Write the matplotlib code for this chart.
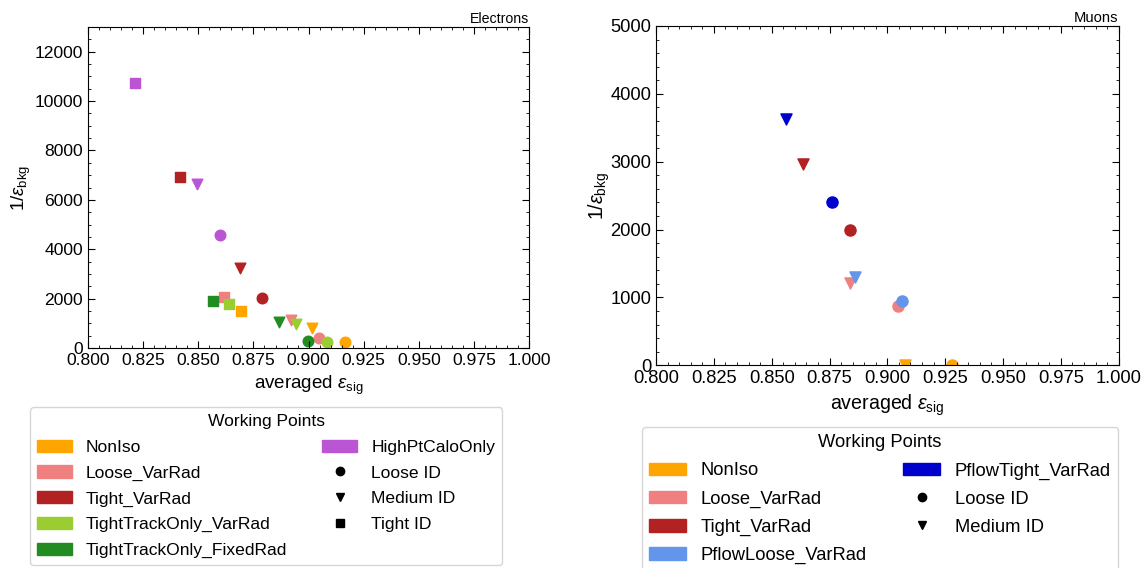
import numpy as np
import matplotlib
matplotlib.use('Agg')
from matplotlib import pyplot as plt
from matplotlib.patches import Patch
from matplotlib.lines import Line2D
from matplotlib.ticker import MultipleLocator

plt.rcParams['font.family'] = ['Liberation Sans', 'DejaVu Sans']
plt.rcParams['mathtext.fontset'] = 'custom'
plt.rcParams['mathtext.rm'] = 'Liberation Sans'
plt.rcParams['mathtext.it'] = 'Liberation Sans:italic'

# electrons: (efficiency, 1/eff_bkg) per isolation WP and ID WP
el_wps = ['NonIso', 'Loose_VarRad', 'Tight_VarRad', 'TightTrackOnly_VarRad',
          'TightTrackOnly_FixedRad', 'HighPtCaloOnly']
el_colors = ['orange', 'lightcoral', 'firebrick', 'yellowgreen',
             'forestgreen', 'mediumorchid']
el_eff_loose = [0.9166, 0.9045, 0.8787, 0.9084, 0.8998, 0.8600]
el_rej_loose = [231, 394, 2029, 256, 296, 4586]
el_eff_medium = [0.9015, 0.8919, 0.8687, 0.8944, 0.8867, 0.8494]
el_rej_medium = [824, 1136, 3235, 986, 1043, 6656]
el_eff_tight = [0.8692, 0.8615, 0.8417, 0.8638, 0.8568, 0.8213]
el_rej_tight = [1502, 2070, 6940, 1773, 1920, 10714]

# muons
mu_wps = ['NonIso', 'Loose_VarRad', 'Tight_VarRad', 'PflowLoose_VarRad',
          'PflowTight_VarRad']
mu_colors = ['orange', 'lightcoral', 'firebrick', 'cornflowerblue', 'mediumblue']
mu_eff_loose = [0.9278, 0.9045, 0.8837, 0.9062, 0.8762]
mu_rej_loose = [3, 878, 1993, 943, 2400]
mu_eff_medium = [0.9077, 0.8839, 0.8634, 0.8859, 0.8561]
mu_rej_medium = [5, 1217, 2965, 1305, 3627]

id_names = ['Loose ID', 'Medium ID', 'Tight ID']
id_markers = ['o', 'v', 's']


def style_axes(ax, ymax, ymajor, yminor, fs, ylab_x):
    ax.set_xlim(0.8, 1.0)
    ax.set_ylim(0, ymax)
    ax.xaxis.set_major_locator(MultipleLocator(0.025))
    ax.xaxis.set_minor_locator(MultipleLocator(0.005))
    ax.yaxis.set_major_locator(MultipleLocator(ymajor))
    ax.yaxis.set_minor_locator(MultipleLocator(yminor))
    ax.tick_params(which='both', direction='in', top=True, right=True,
                   labelsize=fs)
    ax.tick_params(which='major', length=5)
    ax.tick_params(which='minor', length=2.5)
    ax.set_xlabel(r'averaged $\epsilon_{\mathrm{sig}}$', fontsize=fs*1.07)
    ax.set_ylabel(r'1/$\epsilon_{\mathrm{bkg}}$', fontsize=fs*1.07)
    ax.yaxis.set_label_coords(ylab_x, 0.5)


def make_legend(ax, wps, colors, ids, anchor, fs):
    handles = [Patch(color=c, label=w) for w, c in zip(wps, colors)]
    for i in ids:
        handles.append(Line2D([], [], ls='none', marker=id_markers[i],
                              color='black', label=id_names[i]))
    ax.legend(handles=handles, title='Working Points', ncol=2,
              loc='upper left', bbox_to_anchor=anchor, borderaxespad=0,
              bbox_transform=ax.figure.transFigure, labelspacing=0.6,
              fontsize=fs, title_fontsize=fs)


fig = plt.figure(figsize=(11.48, 5.68), dpi=100)
ax1 = fig.add_axes([0.0767, 0.3873, 0.3842, 0.5651])
ax2 = fig.add_axes([0.5714, 0.3569, 0.4031, 0.5974])

fs1 = 12.6
fs2 = 13.2

for i in range(len(el_wps)):
    c = el_colors[i]
    ax1.scatter(el_eff_loose[i], el_rej_loose[i], marker='o', color=c, s=58)
    ax1.scatter(el_eff_medium[i], el_rej_medium[i], marker='v', color=c, s=58)
    ax1.scatter(el_eff_tight[i], el_rej_tight[i], marker='s', color=c, s=58)
style_axes(ax1, 13000, 2000, 500, fs1, -0.125)
ax1.set_title('Electrons', loc='right', fontsize=10.2, pad=3)
make_legend(ax1, el_wps, el_colors, [0, 1, 2], (30/1148, 1-407/568), fs1)

for i in range(len(mu_wps)):
    c = mu_colors[i]
    ax2.scatter(mu_eff_loose[i], mu_rej_loose[i], marker='o', color=c, s=64)
    ax2.scatter(mu_eff_medium[i], mu_rej_medium[i], marker='v', color=c, s=64)
style_axes(ax2, 5000, 1000, 200, fs2, -0.095)
ax2.set_title('Muons', loc='right', fontsize=10.6, pad=3)
make_legend(ax2, mu_wps, mu_colors, [0, 1], (642/1148, 1-427/568), fs2)

fig.savefig('out.png', dpi=100)
